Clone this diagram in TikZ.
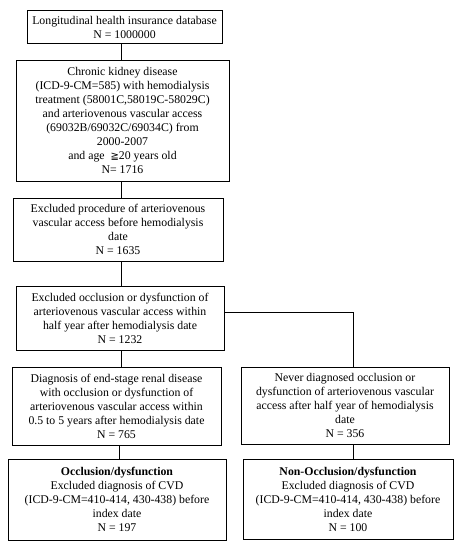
\documentclass[tikz,border=0pt]{standalone}
\usepackage{fontspec}
\setmainfont{Liberation Serif}
\newfontfamily\symfont{DejaVu Sans}
\begin{document}
\begin{tikzpicture}[x=1pt,y=-1pt,
  flowbox/.style={draw=black,line width=1pt,rectangle,inner sep=0pt,align=center,
    font=\fontsize{11.8}{14}\selectfont},
  link/.style={draw=black,line width=0.9pt}]
\useasboundingbox (0,0) rectangle (461,550);
\node[flowbox,minimum width=195,minimum height=33] (b1) at (124.5,27)
  {Longitudinal health insurance database\\N = 1000000};
\node[flowbox,minimum width=213,minimum height=121] (b2) at (122.5,120.5)
  {Chronic kidney disease\\(ICD-9-CM=585) with hemodialysis\\treatment (58001C,58019C-58029C)\\and arteriovenous vascular access\\(69032B/69032C/69034C) from\\2000-2007\\and age \ {\symfont\fontsize{10}{14}\selectfont ≧}20 years old\\N= 1716};
\node[flowbox,minimum width=210,minimum height=63] (b3) at (118,229.5)
  {Excluded procedure of arteriovenous\\vascular access before hemodialysis\\date\\N = 1635};
\node[flowbox,minimum width=208,minimum height=64] (b4) at (120,318)
  {Excluded occlusion or dysfunction of\\arteriovenous vascular access within\\half year after hemodialysis date\\N = 1232};
\node[flowbox,minimum width=209,minimum height=78] (b5) at (116.5,406)
  {Diagnosis of end-stage renal disease\\with occlusion or dysfunction of\\arteriovenous vascular access within\\0.5 to 5 years after hemodialysis date\\N = 765};
\node[flowbox,minimum width=218,minimum height=81] (b6) at (117,499.5)
  {\textbf{Occlusion/dysfunction}\\Excluded diagnosis of CVD\\(ICD-9-CM=410-414, 430-438) before\\index date\\N = 197};
\node[flowbox,minimum width=208,minimum height=77] (r5) at (345,405.5)
  {Never diagnosed occlusion or\\dysfunction of arteriovenous vascular\\access after half year of hemodialysis\\date\\N = 356};
\node[flowbox,minimum width=210,minimum height=80] (r6) at (348,499)
  {\textbf{Non-Occlusion/dysfunction}\\Excluded diagnosis of CVD\\(ICD-9-CM=410-414, 430-438) before\\index date\\N = 100};
\coordinate (spine) at (121,0);
\coordinate (jr) at (353,312);
\draw[link] (b1.south -| spine) -- (b2.north -| spine);
\draw[link] (b2.south -| spine) -- (b3.north -| spine);
\draw[link] (b3.south -| spine) -- (b4.north -| spine);
\draw[link] (b4.south -| spine) -- (b5.north -| spine);
\draw[link] (b5.south -| 119,0) -- (b6.north -| 119,0);
\draw[link] (b4.east |- jr) -- (jr) -- (r5.north -| jr);
\draw[link] (r5.south -| jr) -- (r6.north -| jr);
\end{tikzpicture}
\end{document}
